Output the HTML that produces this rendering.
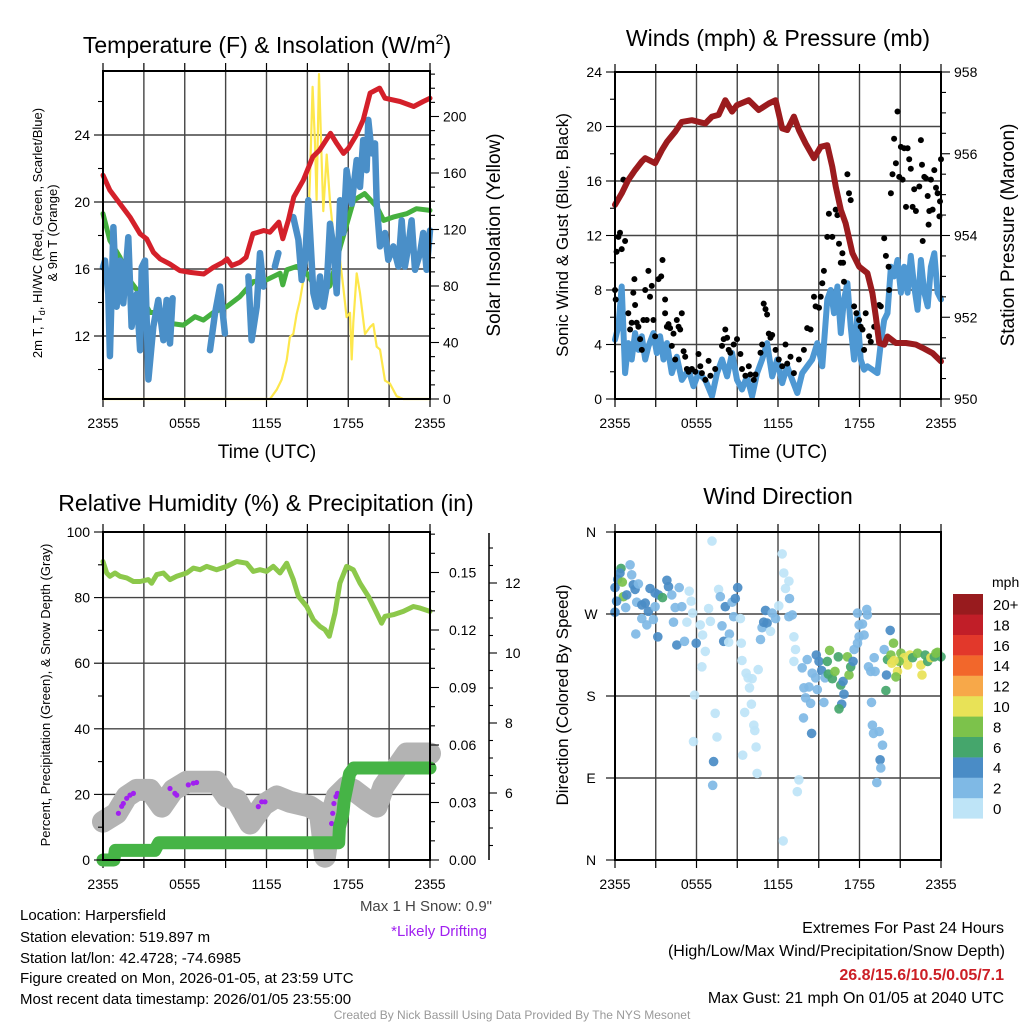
<!DOCTYPE html>
<html><head><meta charset="utf-8">
<style>
html,body{margin:0;padding:0;background:#fff;}
svg{display:block;font-family:"Liberation Sans",Arial,sans-serif;}
</style></head>
<body>
<svg id="fig" width="1024" height="1024" viewBox="0 0 1024 1024" xmlns="http://www.w3.org/2000/svg">
<rect width="1024" height="1024" fill="#fff"/>
<text x="267" y="53" font-size="23" text-anchor="middle">Temperature (F) &amp; Insolation (W/m<tspan font-size="14" dy="-9">2</tspan><tspan dy="9">)</tspan></text>
<text x="778" y="46" font-size="23" text-anchor="middle">Winds (mph) &amp; Pressure (mb)</text>
<text x="266" y="511" font-size="23" text-anchor="middle">Relative Humidity (%) &amp; Precipitation (in)</text>
<text x="778" y="504" font-size="23" text-anchor="middle">Wind Direction</text>
<text x="267" y="458" font-size="19" text-anchor="middle">Time (UTC)</text>
<text x="778" y="458" font-size="19" text-anchor="middle">Time (UTC)</text>
<text transform="translate(42,233) rotate(-90)" font-size="13" text-anchor="middle">2m T, T<tspan font-size="9" dy="3">d</tspan><tspan dy="-3">, HI/WC (Red, Green, Scarlet/Blue)</tspan></text>
<text transform="translate(57,233) rotate(-90)" font-size="13" text-anchor="middle">&amp; 9m T (Orange)</text>
<text transform="translate(500,235) rotate(-90)" font-size="19" text-anchor="middle">Solar Insolation (Yellow)</text>
<text transform="translate(568,235) rotate(-90)" font-size="17" text-anchor="middle">Sonic Wind &amp; Gust (Blue, Black)</text>
<text transform="translate(1014,235) rotate(-90)" font-size="19" text-anchor="middle">Station Pressure (Maroon)</text>
<text transform="translate(50,695) rotate(-90)" font-size="13" text-anchor="middle">Percent, Precipitation (Green), &amp; Snow Depth (Gray)</text>
<text transform="translate(568,695) rotate(-90)" font-size="17" text-anchor="middle">Direction (Colored By Speed)</text>
<g font-size="15">
<text x="20" y="920">Location: Harpersfield</text>
<text x="20" y="942">Station elevation: 519.897 m</text>
<text x="20" y="963">Station lat/lon: 42.4728; -74.6985</text>
<text x="20" y="983">Figure created on Mon, 2026-01-05, at 23:59 UTC</text>
<text x="20" y="1004">Most recent data timestamp: 2026/01/05 23:55:00</text>
</g>
<text x="492" y="911" font-size="15" fill="#444" text-anchor="end">Max 1 H Snow: 0.9"</text>
<text x="487" y="936" font-size="15" fill="#a020f0" text-anchor="end">*Likely Drifting</text>
<g font-size="16" text-anchor="end">
<text x="1004" y="933">Extremes For Past 24 Hours</text>
<text x="1005" y="956">(High/Low/Max Wind/Precipitation/Snow Depth)</text>
<text x="1004" y="980" fill="#cc1f26" font-weight="bold">26.8/15.6/10.5/0.05/7.1</text>
<text x="1004" y="1003">Max Gust: 21 mph On 01/05 at 2040 UTC</text>
</g>
<text x="512" y="1019" font-size="12" fill="#999" text-anchor="middle">Created By Nick Bassill Using Data Provided By The NYS Mesonet</text>
<g id="layer"></g>
</svg>
<script>
// ---------- data (time in hours since 2355 UTC) ----------
const tempRed = [[0,21.6],[0.51,20.7],[1.25,19.9],[1.98,19.1],[2.72,18.1],[3.2,17.8],[3.7,17.0],[4.2,16.6],[4.9,16.3],[5.65,15.9],[6.4,15.8],[7.4,15.7],[8.1,16.1],[8.8,16.4],[9.1,16.6],[9.45,16.2],[10.05,16.4],[10.5,16.7],[11.0,18.1],[11.8,18.3],[12.25,18.2],[12.9,18.8],[13.2,17.8],[13.6,18.9],[14.0,20.3],[14.7,21.3],[15.4,22.7],[15.9,23.1],[16.7,24.1],[17.15,23.5],[17.65,22.9],[18.0,23.2],[18.6,24.0],[19.1,24.9],[19.6,26.5],[20.3,26.8],[20.7,26.2],[21.8,26.0],[22.8,25.7],[23.5,26.0],[24,26.2]];
const tempGreen = [[0,19.3],[0.51,17.7],[1.25,16.7],[1.98,15.3],[2.72,14.5],[3.45,13.4],[4.2,13.4],[4.92,12.75],[5.9,12.65],[6.75,13.15],[7.36,12.95],[8.1,13.4],[9.08,13.75],[10.05,14.35],[11.03,15.25],[12.0,15.35],[13.0,15.75],[13.2,15.05],[13.5,15.95],[14.2,16.15],[14.95,15.75],[15.9,14.5],[16.65,15.0],[17.4,17.3],[18.4,20.1],[19.2,20.5],[20.1,19.7],[20.6,18.9],[21.3,19.1],[22.3,19.3],[23.0,19.6],[24,19.5]];
const tempBlue = [[0,16.1],[0.15,16.5],[0.39,14.5],[0.51,10.8],[0.76,18.5],[1.0,13.75],[1.25,16.5],[1.49,13.95],[1.86,17.9],[2.1,12.55],[2.47,14.5],[2.72,11.15],[2.84,16.1],[3.08,16.5],[3.33,9.4],[3.69,12.55],[4.06,14.15],[4.43,11.75],[4.67,14.15],[4.92,11.55],[5.11,14.25],null,
 [7.85,11.15],[8.22,13.35],[8.59,14.95],[8.95,12.15],null,
 [10.67,15.55],[10.91,11.75],[11.28,13.75],[11.52,16.95],[11.77,14.95],null,
 [12.62,16.15],[12.87,16.95],null,
 [13.97,19.1],[14.34,17.75],[14.58,15.35],[14.83,16.55],[15.07,20.1],[15.44,14.55],[15.68,13.75],[15.93,15.55],[16.17,13.75],[16.42,14.95],[16.66,18.7],[16.9,17.35],[17.15,14.55],[17.4,20.1],[17.64,18.15],[17.88,21.9],[18.25,19.9],[18.62,22.5],[18.86,20.9],[19.1,23.7],[19.35,21.9],[19.47,24.9],[19.72,22.9],[19.96,23.5],[20.09,19.9],[20.33,17.35],[20.7,18.15],[20.94,16.55],[21.31,17.35],[21.68,16.15],[21.92,18.9],[22.16,16.15],[22.41,17.35],[22.65,18.9],[22.9,15.95],[23.27,16.95],[23.5,18.15],[23.75,15.95],[24,18.3]];
const insolation = [[0,0],[12.26,0],[12.75,6.6],[13.11,13.6],[13.48,27.5],[13.72,44],[13.97,46],[14.21,60],[14.46,70],[14.7,84],[14.95,96],[15.19,157],[15.38,221],[15.56,181],[15.68,141],[15.85,230],[16.05,168],[16.17,133],[16.42,173],[16.66,140],[16.9,117],[17.15,107],[17.4,98],[17.64,79],[17.88,58],[18.13,61],[18.25,28],[18.37,54],[18.62,89],[18.86,75],[19.23,46],[19.6,51],[19.84,53],[20.09,37],[20.33,35],[20.7,13],[21.06,11],[21.55,2],[22.04,0],[24,0]];
const pressure = [[0,954.75],[0.49,955.03],[0.98,955.36],[1.48,955.6],[1.97,955.81],[2.22,955.89],[2.95,955.77],[3.45,956.09],[3.82,956.29],[4.43,956.54],[4.92,956.78],[5.66,956.82],[6.65,956.74],[7.14,956.91],[7.63,956.95],[8.12,957.31],[8.62,957.03],[8.98,957.19],[9.85,957.31],[10.58,957.07],[11.32,957.23],[11.82,957.31],[12.31,956.62],[12.68,956.58],[13.17,956.91],[13.54,956.58],[14.03,956.25],[14.65,955.89],[15.14,956.17],[15.63,956.21],[16.0,955.68],[16.25,955.2],[16.62,954.63],[16.98,954.3],[17.48,953.57],[17.97,953.24],[18.58,953.08],[18.95,952.59],[19.2,952.02],[19.45,951.37],[19.82,951.33],[20.06,951.53],[20.68,951.37],[21.42,951.37],[22.15,951.33],[22.65,951.25],[23.38,951.12],[24,950.92]];
const windSpeed = [[0,4.35],[0.25,5.33],[0.49,8.26],[0.74,1.9],[0.98,4.1],[1.23,2.9],[1.48,4.84],[1.72,3.6],[1.97,4.6],[2.22,2.9],[2.46,3.86],[2.83,4.84],[3.08,3.37],[3.32,4.6],[3.57,2.9],[3.82,4.1],[4.18,1.9],[4.55,3.1],[4.92,1.4],[5.42,2.15],[5.78,0.93],[6.15,1.9],[6.65,1.4],[7.14,0.2],[7.51,1.9],[7.88,2.9],[8.25,1.66],[8.62,3.37],[8.98,1.4],[9.35,0.7],[9.72,1.66],[10.09,0.2],[10.46,1.9],[10.83,2.9],[11.2,4.1],[11.57,1.66],[11.94,2.9],[12.31,1.17],[12.68,2.4],[13.05,1.4],[13.42,0.44],[13.78,1.9],[14.15,2.4],[14.52,2.9],[14.89,4.1],[15.26,2.4],[15.63,7.3],[15.88,8.0],[16.12,6.3],[16.37,8.26],[16.62,4.84],[16.86,7.3],[17.11,8.5],[17.35,5.33],[17.6,2.9],[17.85,6.3],[18.09,2.9],[18.34,2.15],[18.58,2.4],[18.95,2.15],[19.32,1.9],[19.57,4.1],[19.82,5.8],[20.06,6.3],[20.31,9.7],[20.55,9.0],[20.8,10.2],[21.05,7.8],[21.29,9.7],[21.54,7.8],[21.78,10.5],[22.03,8.26],[22.28,6.55],[22.52,10.2],[22.77,7.8],[23.02,6.8],[23.26,9.7],[23.51,10.7],[23.75,7.8],[24.0,7.3]];
const windGust = [[0,8.0],[0.05,7.3],[0.12,10.8],[0.25,11.9],[0.37,12.2],[0.49,11.0],[0.62,16.1],[0.74,11.6],[0.98,6.3],[1.11,5.1],[1.23,5.6],[1.35,7.8],[1.43,8.8],[1.48,6.9],[1.6,5.6],[1.72,5.3],[1.85,4.4],[1.97,3.6],[2.09,5.8],[2.22,8.0],[2.34,5.8],[2.46,9.4],[2.58,7.5],[2.71,8.3],[2.83,5.8],[2.95,4.6],[3.2,8.8],[3.4,9.0],[3.5,10.2],[3.69,7.3],[3.69,6.3],[3.82,5.3],[3.94,5.5],[4.06,5.2],[4.18,3.9],[4.31,4.8],[4.43,2.9],[4.55,5.8],[4.68,5.3],[4.8,5.1],[4.92,6.3],[5.05,3.5],[5.17,3.1],[5.29,2.2],[5.42,2.0],[5.66,2.2],[5.91,2.0],[6.15,3.3],[6.28,2.4],[6.4,1.9],[6.65,1.4],[6.89,2.8],[7.02,1.7],[7.38,2.2],[7.88,3.9],[8.0,4.4],[8.12,5.1],[8.25,4.5],[8.37,3.6],[8.49,3.4],[8.74,4.0],[8.98,4.4],[9.23,3.3],[9.35,2.2],[9.6,1.7],[9.85,2.4],[9.97,1.8],[10.22,1.4],[10.34,1.8],[10.71,3.4],[10.83,4.0],[10.95,7.0],[11.08,6.6],[11.2,6.2],[11.32,4.8],[11.45,4.5],[11.57,4.7],[11.82,3.6],[12.06,2.9],[12.31,2.4],[12.55,4.0],[12.68,2.6],[12.92,3.1],[13.17,1.9],[13.54,2.9],[13.91,3.6],[14.15,5.2],[14.4,5.1],[14.65,7.5],[14.77,6.8],[15.02,6.7],[15.14,7.5],[15.26,8.5],[15.38,9.4],[15.63,11.9],[15.75,13.6],[16.0,11.9],[16.25,13.9],[16.37,13.5],[16.49,11.4],[16.62,10.0],[16.74,10.7],[16.79,10.0],[16.86,8.6],[17.11,16.5],[17.23,15.1],[17.35,14.6],[17.6,6.8],[17.77,6.3],[17.97,5.8],[18.09,5.3],[18.22,5.1],[18.34,3.6],[18.46,6.3],[18.71,4.6],[18.83,4.2],[19.08,5.3],[19.45,6.9],[19.57,6.8],[19.82,11.8],[19.94,10.5],[20.14,9.7],[20.18,8.0],[20.31,15.1],[20.43,16.5],[20.55,19.1],[20.68,17.3],[20.8,21.1],[20.92,16.3],[21.05,18.5],[21.17,16.1],[21.29,18.4],[21.42,14.1],[21.54,18.4],[21.66,17.6],[21.78,16.9],[21.91,14.1],[22.03,15.4],[22.15,13.8],[22.4,15.6],[22.52,19.0],[22.6,17.2],[22.65,11.6],[22.77,16.3],[22.89,16.2],[23.02,14.9],[23.09,12.8],[23.14,13.8],[23.26,16.1],[23.38,13.9],[23.51,16.8],[23.63,15.5],[23.75,15.1],[23.88,13.4],[23.93,14.5],[24.0,17.6]];
const relHumidity = [[0,91.0],[0.27,87.5],[0.51,86.5],[0.88,87.5],[1.25,86.5],[1.74,86.0],[2.23,84.9],[2.72,84.9],[3.33,85.5],[3.57,84.4],[3.94,87.0],[4.43,87.5],[4.92,85.5],[5.41,86.5],[6.14,87.5],[6.63,89.0],[7.12,88.5],[7.61,89.5],[8.34,88.5],[9.08,89.5],[9.81,91.0],[10.54,90.5],[11.03,88.0],[11.52,88.5],[12.01,88.0],[12.5,89.5],[12.99,87.5],[13.48,90.5],[13.97,85.5],[14.34,80.4],[14.95,77.3],[15.44,73.2],[15.93,71.2],[16.29,70.2],[16.61,68.2],[17.03,75.3],[17.39,84.4],[17.88,89.5],[18.37,88.5],[18.86,84.4],[19.47,80.4],[20.09,75.3],[20.45,72.2],[20.7,74.3],[21.31,74.8],[22.04,75.8],[22.78,77.3],[23.27,76.8],[24,75.8]];
const precipAccum = [[0,0],[0.8,0],[0.9,0.005],[3.8,0.005],[4.1,0.009],[17.3,0.009],[17.35,0.017],[17.6,0.024],[17.7,0.031],[17.9,0.038],[18.1,0.045],[18.4,0.048],[24,0.048]];
const snowDepth = [[0,5.18],[1.0,5.42],[1.74,5.9],[2.47,6.09],[3.45,6.09],[4.31,5.61],[5.16,6.09],[6.14,6.32],[8.34,6.32],[9.08,5.9],[9.81,5.8],[10.79,5.13],[11.77,5.66],[12.75,5.9],[13.72,5.75],[15.19,5.61],[15.93,5.42],[16.29,4.18],[16.66,5.23],[17.15,5.9],[17.88,6.18],[18.37,6.09],[19.35,5.8],[20.09,5.61],[20.58,6.18],[22.29,7.13],[24,7.13]];
const driftFlags = [[1.13,5.42],[1.37,5.62],[1.49,5.7],[1.74,5.85],[1.98,5.94],[2.23,5.99],[4.92,6.13],[5.28,5.99],[5.41,5.94],[6.26,6.23],[6.63,6.28],[6.87,6.3],[11.4,5.61],[11.65,5.75],[11.89,5.75],[16.78,5.13],[16.86,5.42],[16.95,5.7],[17.1,5.9],[17.2,5.99]];
// wind direction observations: [time h, direction deg, speed mph]
const dirObs = [[0.44,320,7],[1.11,324,3],[1.23,313,3],[0.37,315,5],[0.2,308,5],[0.54,305,9],[0,299,5],[0.62,289,9],[0.12,284,5],[0,272,5],[0.86,291,5],[0.79,277,3],[1.35,302,5],[1.48,297,5],[1.72,303,3],[1.6,283,3],[1.97,280,5],[2.22,282,5],[2.58,298,5],[2.95,293,5],[3.2,291,5],[3.5,288,7],[3.82,307,5],[3.94,300,5],[4.18,291,3],[4.73,299,3],[2.46,273,5],[1.97,265,3],[2.34,258,3],[2.83,264,3],[2.95,278,3],[1.53,248,3],[3.15,245,5],[4.31,261,3],[4.55,236,5],[4.43,277,3],[4.92,278,3],[5.29,261,1],[5.12,240,3],[5.46,295,1],[5.61,284,1],[5.71,271,1],[5.98,238,5],[6.28,258,1],[6.45,247,1],[6.65,229,1],[6.4,212,1],[6.89,276,1],[7.02,262,1],[7.14,350,1],[7.63,297,1],[7.75,289,3],[7.88,257,3],[8.0,240,5],[8.12,278,5],[8.42,248,3],[8.37,239,1],[8.62,283,3],[8.86,287,5],[9.03,299,5],[8.74,267,3],[9.23,265,1],[9.3,238,1],[9.35,219,1],[9.65,205,1],[9.8,200,1],[10.09,199,1],[9.9,189,1],[10.54,209,1],[10.71,242,3],[10.83,255,3],[10.95,261,5],[11.2,260,5],[11.08,274,5],[11.45,251,1],[11.57,271,3],[11.82,265,3],[12.06,279,1],[12.31,336,1],[12.43,315,1],[12.55,298,1],[12.8,306,1],[12.85,287,3],[12.8,267,3],[13.05,269,3],[13.17,245,1],[13.29,231,1],[13.17,218,1],[5.86,181,1],[5.78,130,1],[7.38,161,1],[7.51,135,1],[7.26,108,5],[7.19,82,3],[9.55,162,1],[10.04,171,1],[10.22,148,1],[10.29,142,1],[10.39,124,1],[9.4,115,1],[10.46,95,1],[13.54,88,1],[13.42,75,1],[12.38,21,1],
[13.78,211,3],[14.15,220,3],[13.91,189,3],[14.28,190,3],[14.03,178,3],[14.4,172,3],[14.52,205,3],[14.82,225,5],[15.02,218,5],[14.77,200,3],[14.89,187,3],[15.21,208,5],[15.46,200,3],[15.63,218,7],[15.8,230,9],[15.7,204,7],[16.0,199,7],[16.2,207,9],[16.44,223,7],[16.62,192,7],[16.79,196,5],[16.86,182,5],[16.69,171,5],[16.49,166,7],[17.11,223,9],[17.23,203,9],[17.35,212,7],[17.53,218,5],[17.6,231,3],[17.97,245,3],[17.85,238,3],[17.97,258,3],[18.22,259,3],[18.34,247,3],[17.85,271,3],[18.54,275,3],[18.58,269,3],[15.38,173,3],[13.88,156,3],[14.47,139,5],[18.66,212,3],[18.83,207,3],[19.15,207,3],[19.99,203,5],[19.08,222,3],[19.82,231,3],[20.26,252,5],[20.5,238,9],[20.06,220,7],[20.31,225,9],[19.94,186,7],[20.38,216,11],[20.8,207,11],[20.68,201,9],[21.05,227,9],[21.29,222,11],[21.54,214,11],[21.71,225,11],[21.91,222,7],[22.28,227,9],[22.52,214,11],[22.6,203,11],[22.84,225,7],[23.02,218,7],[23.26,222,11],[23.51,223,7],[23.75,228,9],[24.0,223,7],[20.92,218,9],[20.55,219,11],[23.63,227,9],[18.88,173,3],[18.95,148,3],[19.03,139,3],[19.45,141,3],[19.69,126,3],[19.52,110,5],[19.57,101,3],[19.27,85,3]];
const speedColors = ['#bee4f7','#7fb9e5','#4a8cc6','#45a66c','#7cc24b','#e8e257','#f7a849','#f2672b','#e2382b','#c11e28','#981b1e'];
const speedLabels = ['0','2','4','6','8','10','12','14','16','18','20+'];
const timeLabels = ['2355','0555','1155','1755','2355'];

// ---------- helpers ----------
const NS='http://www.w3.org/2000/svg';
const layer=document.getElementById('layer');
function mk(tag,attrs,parent){const e=document.createElementNS(NS,tag);for(const k in attrs)e.setAttribute(k,attrs[k]);(parent||layer).appendChild(e);return e;}
function txt(x,y,s,size,anchor,parent,fill){const e=mk('text',{x:x,y:y,'font-size':size,'text-anchor':anchor||'middle',fill:fill||'#000'},parent);e.textContent=s;return e;}
function pathOf(data,xf,yf){let d='',pen=false;for(const p of data){if(p===null){pen=false;continue;}d+=(pen?'L':'M')+xf(p[0]).toFixed(1)+' '+yf(p[1]).toFixed(1);pen=true;}return d;}

const P1={x0:103,x1:430,y0:71,y1:399};
const P2={x0:615,x1:941,y0:72,y1:399};
const P3={x0:103,x1:430,y0:532,y1:860};
const P4={x0:615,x1:941,y0:532,y1:860};
const tx=P=>t=>P.x0+t/24*(P.x1-P.x0);
const yTemp=v=>135+(24-v)*16.75;
const yIns=w=>399-w*1.4125;
const yWind=v=>399-v*13.625;
const yPres=p=>399-(p-950)*40.875;
const yPct=v=>860-v*3.28;
const yPrec=p=>860-p*1916.7;
const ySnow=s=>793-(s-6)*35;
const yDir=d=>860-d/360*328;

function frame(P,name,hVals,hf){
  const g=mk('g',{});
  
  
  for(let h=3;h<24;h+=3){const x=tx(P)(h);mk('line',{x1:x,x2:x,y1:P.y0,y2:P.y1,stroke:'#444','stroke-width':1.4},g);}
  for(const v of hVals){const y=hf(v);mk('line',{x1:P.x0,x2:P.x1,y1:y,y2:y,stroke:'#444','stroke-width':1.4},g);}
  for(let h=0;h<=24;h+=3){const x=tx(P)(h);mk('line',{x1:x,x2:x,y1:P.y1,y2:P.y1+8,stroke:'#000','stroke-width':1.2},g);mk('line',{x1:x,x2:x,y1:P.y0,y2:P.y0-8,stroke:'#000','stroke-width':1.2},g);}
  timeLabels.forEach((s,i)=>{const lab=txt(tx(P)(i*6),P.y1+29,s,14,'middle');});
}
function border(P,name){const r=mk('rect',{x:P.x0,y:P.y0,width:P.x1-P.x0,height:P.y1-P.y0,fill:'none',stroke:'#000','stroke-width':2});}
function yAxis(x,side,from,to,minor,major,f,labelFmt,name,labelOff){
  const g=mk('g',{});
  
  
  const dir=side==='left'?-1:1;
  for(let v=from;v<=to+1e-9;v+=minor){const isMaj=Math.abs(v/major-Math.round(v/major))<1e-6;const y=f(v);mk('line',{x1:x,x2:x+dir*(isMaj?9:5),y1:y,y2:y,stroke:'#000','stroke-width':1.1},g);
    if(isMaj&&labelFmt){txt(x+dir*(labelOff||13),y+5,labelFmt(v),14,side==='left'?'end':'start',g);}}
  return g;
}

// ---------- Panel 1 ----------
frame(P1,'temp-panel',[12,16,20,24],yTemp);
const xp1=tx(P1);
let e;
e=mk('path',{d:pathOf(insolation,xp1,yIns),fill:'none',stroke:'#fde74c','stroke-width':2.2,'stroke-linejoin':'round'});

e=mk('path',{d:pathOf(tempGreen,xp1,yTemp),fill:'none',stroke:'#45b03f','stroke-width':5,'stroke-linejoin':'round','stroke-linecap':'round'});

e=mk('path',{d:pathOf(tempBlue,xp1,yTemp),fill:'none',stroke:'#4a8fc8','stroke-width':6.5,'stroke-linejoin':'round','stroke-linecap':'round'});

e=mk('path',{d:pathOf(tempRed,xp1,yTemp),fill:'none',stroke:'#d4202a','stroke-width':5,'stroke-linejoin':'round','stroke-linecap':'round'});

border(P1,'temp-panel');
yAxis(P1.x0,'left',10,26,2,4,yTemp,v=>String(v),'temp-left-axis',13);
yAxis(P1.x1,'right',0,230,10,40,yIns,v=>String(v),'insolation-right-axis',13);

// ---------- Panel 2 ----------
frame(P2,'wind-panel',[4,8,12,16,20],yWind);
const xp2=tx(P2);
e=mk('path',{d:pathOf(windSpeed,xp2,yWind),fill:'none',stroke:'#4e98d3','stroke-width':6,'stroke-linejoin':'round','stroke-linecap':'round'});

const gg=mk('g',{});


for(const p of windGust){const c=mk('circle',{cx:xp2(p[0]).toFixed(1),cy:yWind(p[1]).toFixed(1),r:3,fill:'#000'},gg);}
e=mk('path',{d:pathOf(pressure,xp2,yPres),fill:'none',stroke:'#9b1b1e','stroke-width':6,'stroke-linejoin':'round','stroke-linecap':'round'});

border(P2,'wind-panel');
yAxis(P2.x0,'left',0,24,2,4,yWind,v=>String(v),'wind-left-axis',13);
yAxis(P2.x1,'right',950,958,0.5,2,yPres,v=>String(Math.round(v)),'pressure-right-axis',13);

// ---------- Panel 3 ----------
frame(P3,'humidity-panel',[20,40,60,80],yPct);
const xp3=tx(P3);
e=mk('path',{d:pathOf(snowDepth,xp3,ySnow),fill:'none',stroke:'#b3b3b3','stroke-width':22,'stroke-linejoin':'round','stroke-linecap':'round'});

const dg=mk('g',{});


for(const p of driftFlags){const c=mk('circle',{cx:xp3(p[0]).toFixed(1),cy:ySnow(p[1]).toFixed(1),r:2.6,fill:'#a020f0'},dg);}
e=mk('path',{d:pathOf(precipAccum,xp3,yPrec),fill:'none',stroke:'#46b446','stroke-width':13,'stroke-linejoin':'round','stroke-linecap':'round'});

e=mk('path',{d:pathOf(relHumidity,xp3,yPct),fill:'none',stroke:'#8cc84b','stroke-width':5,'stroke-linejoin':'round','stroke-linecap':'round'});

border(P3,'humidity-panel');
yAxis(P3.x0,'left',0,100,10,20,yPct,v=>String(Math.round(v)),'percent-left-axis',13);
yAxis(P3.x1,'right',0,0.17,0.01,0.03,yPrec,v=>v.toFixed(2),'precip-right-axis',19);
e=mk('line',{x1:489,x2:489,y1:533,y2:860,stroke:'#000','stroke-width':1.5});

const sg=mk('g',{});


for(let s=4.5;s<=13.3;s+=0.5){const y=ySnow(s);const maj=Math.abs(s%2)<1e-6;mk('line',{x1:489,x2:maj?497:493,y1:y,y2:y,stroke:'#000','stroke-width':1.1},sg);if(maj)txt(505,y+5,String(s),14,'start',sg);}

// ---------- Panel 4 ----------
frame(P4,'direction-panel',[90,180,270],yDir);
const xp4=tx(P4);
const wg=mk('g',{});


for(const o of dirObs){const ci=Math.max(0,Math.min(10,Math.floor(o[2]/2)));const c=mk('circle',{cx:xp4(o[0]).toFixed(1),cy:yDir(o[1]).toFixed(1),r:4.8,fill:speedColors[ci],'fill-opacity':0.92},wg);}
border(P4,'direction-panel');
const dl=mk('g',{});


['N','E','S','W','N'].forEach((s,i)=>{const y=yDir(i*90);mk('line',{x1:P4.x0-9,x2:P4.x0,y1:y,y2:y,stroke:'#000','stroke-width':1.1},dl);txt(591,y+5,s,14,'middle',dl);});
const cb=mk('g',{});


txt(992,587,'mph',14,'start',cb);
for(let i=0;i<speedColors.length;i++){const y=594+(10-i)*20.4;const r=mk('rect',{x:953,y:y,width:30,height:20.6,fill:speedColors[i]},cb);txt(993,y+16,speedLabels[i],15,'start',cb);}
</script>
</body></html>
